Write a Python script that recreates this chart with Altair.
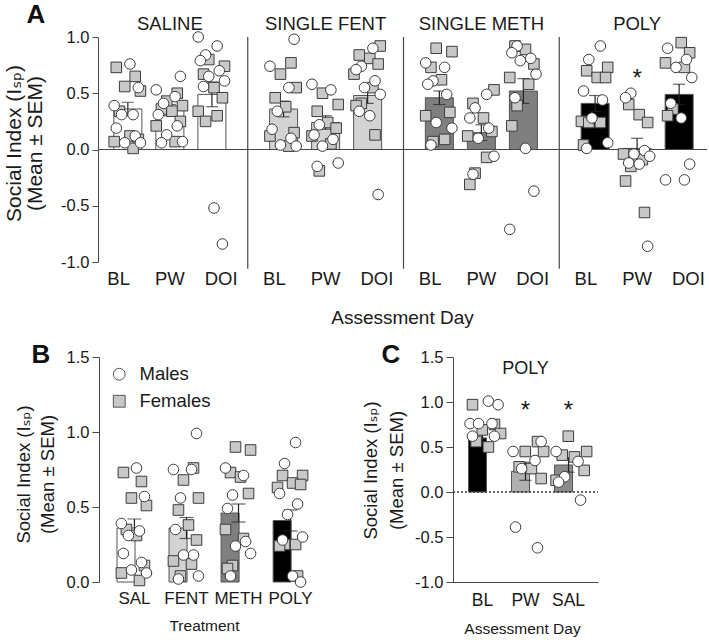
import altair as alt
import pandas as pd

FONT = "Liberation Sans, DejaVu Sans, sans-serif"
INK = "#474747"
TEXT = "#1a1a1a"
EDGE = "#3c3c3c"

# ---------------- Panel A: treatment x assessment day ----------------
treat_a = ["SALINE", "SINGLE FENT", "SINGLE METH", "POLY"]
day_a = ["BL", "PW", "DOI"]
fill_a = ["#ffffff", "#d3d3d3", "#7f7f7f", "#000000"]

mean_a = [
    [0.36, 0.35, 0.49],   # SALINE
    [0.36, 0.24, 0.48],   # SINGLE FENT
    [0.46, 0.15, 0.52],   # SINGLE METH
    [0.41, 0.01, 0.49],   # POLY
]
sem_a = [
    [0.06, 0.05, 0.11],
    [0.07, 0.06, 0.07],
    [0.06, 0.07, 0.11],
    [0.07, 0.09, 0.09],
]

# individual animals: one list per day (BL, PW, DOI)
saline_f = [[0.73, 0.65, 0.56, 0.52, 0.34, 0.12, 0.09, 0.07, 0.01],
            [0.50, 0.43, 0.39, 0.36, 0.34, 0.25, 0.21, 0.07],
            [0.80, 0.74, 0.67, 0.55, 0.46, 0.34, 0.30, 0.25]]
saline_m = [[0.76, 0.55, 0.39, 0.31, 0.31, 0.19, 0.12, 0.06, 0.06],
            [0.65, 0.53, 0.47, 0.41, 0.31, 0.21, 0.13, 0.07, 0.06],
            [1.00, 0.92, 0.84, 0.79, 0.70, 0.65, 0.61, 0.56, -0.52, -0.84]]
fent_f = [[0.77, 0.67, 0.55, 0.46, 0.38, 0.15, 0.12, 0.03],
          [0.50, 0.40, 0.34, 0.24, 0.19, 0.12, 0.05, -0.19],
          [0.92, 0.84, 0.81, 0.76, 0.67, 0.55, 0.41, 0.39, 0.13]]
fent_m = [[0.98, 0.74, 0.55, 0.34, 0.18, 0.10, 0.04, 0.03],
          [0.58, 0.53, 0.22, 0.13, 0.09, 0.03, -0.12, -0.15],
          [0.90, 0.74, 0.71, 0.61, 0.55, 0.49, 0.34, 0.30, -0.40]]
meth_f = [[0.90, 0.87, 0.73, 0.62, 0.33, 0.30, 0.09, 0.07],
          [0.53, 0.41, 0.28, 0.16, 0.12, -0.07, -0.21, -0.31],
          [0.92, 0.89, 0.76, 0.64, 0.58, 0.39, 0.21]]
meth_m = [[0.77, 0.73, 0.61, 0.58, 0.49, 0.24, 0.19, 0.04],
          [0.49, 0.37, 0.28, 0.19, 0.10, -0.06, -0.22],
          [0.92, 0.86, 0.81, 0.79, 0.67, 0.46, 0.01, -0.37, -0.71]]
poly_f = [[0.73, 0.70, 0.64, 0.64, 0.25, 0.24, 0.24, 0.04],
          [0.40, 0.31, 0.24, -0.04, -0.09, -0.15, -0.28, -0.56],
          [0.95, 0.86, 0.77, 0.73, 0.36, 0.30]]
poly_m = [[0.92, 0.80, 0.52, 0.44, 0.28, 0.06, 0.01],
          [0.50, 0.46, -0.01, -0.04, -0.06, -0.12, -0.13, -0.86],
          [0.90, 0.80, 0.73, 0.64, 0.41, 0.28, -0.13, -0.27, -0.27]]
females_a = [saline_f, fent_f, meth_f, poly_f]
males_a = [saline_m, fent_m, meth_m, poly_m]
star_a = {"treat": "POLY", "day": "PW", "y": 0.66}

# ---------------- Panel B: baseline by treatment ----------------
treat_b = ["SAL", "FENT", "METH", "POLY"]
mean_b = [0.36, 0.36, 0.46, 0.41]
sem_b = [0.06, 0.07, 0.06, 0.07]
females_b = [[0.73, 0.67, 0.56, 0.51, 0.35, 0.31, 0.11, 0.06, 0.01],
             [0.76, 0.68, 0.56, 0.48, 0.38, 0.28, 0.14, 0.12, 0.04],
             [0.90, 0.88, 0.73, 0.70, 0.59, 0.35, 0.29, 0.11, 0.09],
             [0.71, 0.71, 0.66, 0.65, 0.63, 0.25, 0.25, 0.24, 0.04]]
males_b = [[0.76, 0.57, 0.39, 0.34, 0.31, 0.19, 0.13, 0.08, 0.06],
           [0.99, 0.75, 0.75, 0.56, 0.35, 0.18, 0.18, 0.04, 0.02],
           [0.76, 0.71, 0.58, 0.49, 0.27, 0.24, 0.19, 0.04],
           [0.93, 0.79, 0.59, 0.52, 0.45, 0.30, 0.28, 0.04, 0.00]]

# ---------------- Panel C: POLY cohort ----------------
day_c = ["BL", "PW", "SAL"]
fill_c = ["#000000", "#b0b0b0", "#8a8a8a"]
mean_c = [0.60, 0.23, 0.30]
sem_c = [0.05, 0.10, 0.08]
females_c = [[0.97, 0.75, 0.69, 0.65, 0.56, 0.50],
             [0.56, 0.45, 0.45, 0.28, 0.26, 0.15],
             [0.62, 0.45, 0.41, 0.39, 0.24, 0.13]]
males_c = [[1.01, 0.97, 0.76, 0.76, 0.76, 0.62, 0.62],
           [0.56, 0.45, 0.35, 0.26, -0.39, -0.62],
           [0.45, 0.34, 0.17, 0.11, -0.09]]
star_c = ["PW", "SAL"]

# deterministic horizontal scatter pattern for the dots
JIT = [-0.55, 0.35, -0.15, 0.6, -0.4, 0.1, 0.5, -0.65, 0.25, -0.3]


def scatter(vals, center, phase, k):
    return [center + JIT[(i + phase) % len(JIT)] * k for i in range(len(vals))]


# ---------- frames ----------
bar_a = pd.DataFrame([
    {"treat": t, "day": d, "mean": mean_a[i][j], "lo": mean_a[i][j] - sem_a[i][j],
     "hi": mean_a[i][j] + sem_a[i][j], "fill": fill_a[i]}
    for i, t in enumerate(treat_a) for j, d in enumerate(day_a)
])
cap_a = pd.concat([
    bar_a[["treat", "day", "lo"]].rename(columns={"lo": "v"}),
    bar_a[["treat", "day", "hi"]].rename(columns={"hi": "v"}),
])
rows = []
for i, t in enumerate(treat_a):
    for j, d in enumerate(day_a):
        for sex, vals, ph in (("Females", females_a[i][j], 0), ("Males", males_a[i][j], 5)):
            for v, xo in zip(vals, scatter(vals, j - 1, ph + i + j, 0.5)):
                rows.append({"treat": t, "day": d, "sex": sex, "value": v, "xo": xo})
pts_a = pd.DataFrame(rows)

bar_b = pd.DataFrame({"treat": treat_b, "mean": mean_b,
                      "lo": [m - s for m, s in zip(mean_b, sem_b)],
                      "hi": [m + s for m, s in zip(mean_b, sem_b)],
                      "fill": fill_a})
cap_b = pd.concat([bar_b[["treat", "lo"]].rename(columns={"lo": "v"}),
                   bar_b[["treat", "hi"]].rename(columns={"hi": "v"})])
rows = []
for i, t in enumerate(treat_b):
    for sex, vals, ph in (("Females", females_b[i], 0), ("Males", males_b[i], 5)):
        for v, xo in zip(vals, scatter(vals, 0, ph + i, 1.15)):
            rows.append({"treat": t, "sex": sex, "value": v, "xo": xo})
pts_b = pd.DataFrame(rows)

bar_c = pd.DataFrame({"day": day_c, "mean": mean_c,
                      "lo": [m - s for m, s in zip(mean_c, sem_c)],
                      "hi": [m + s for m, s in zip(mean_c, sem_c)],
                      "fill": fill_c})
cap_c = pd.concat([bar_c[["day", "lo"]].rename(columns={"lo": "v"}),
                   bar_c[["day", "hi"]].rename(columns={"hi": "v"})])
rows = []
for i, d in enumerate(day_c):
    for sex, vals, ph in (("Females", females_c[i], 0), ("Males", males_c[i], 5)):
        for v, xo in zip(vals, scatter(vals, 0, ph + i, 1.4)):
            rows.append({"day": d, "sex": sex, "value": v, "xo": xo})
pts_c = pd.DataFrame(rows)

# ---------- shared encodings ----------
MINUS = "replace(datum.label, '\u2212', '-')"
Y_TITLE = ["Social Index (I\u209b\u209a)", "(Mean \u00b1 SEM)"]

legend = alt.Legend(orient="none", legendX=110, legendY=365, title=None,
                    labelFontSize=18.5, labelColor=TEXT, labelOffset=11,
                    symbolSize=140, symbolStrokeColor=EDGE, symbolStrokeWidth=1,
                    rowPadding=8, padding=0)
shape_enc = alt.Shape("sex:N", scale=alt.Scale(domain=["Males", "Females"],
                                               range=["circle", "square"]), legend=legend)
fill_enc = alt.Fill("sex:N", scale=alt.Scale(domain=["Males", "Females"],
                                             range=["#ffffff", "#c8c8c8"]), legend=legend)


def dots(df, x_enc, off_scale, y_enc):
    return alt.Chart(df).mark_point(filled=True, opacity=1, size=112, stroke=EDGE,
                                    strokeWidth=1).encode(
        x=x_enc, xOffset=alt.XOffset("xo:Q", scale=off_scale), y=y_enc,
        shape=shape_enc, fill=fill_enc)


# ---------- Panel A ----------
sx_a = alt.Scale(domain=treat_a, range=[92, 715], paddingInner=0, paddingOuter=0)
so_a = alt.Scale(domain=day_a, paddingInner=1 / 3, paddingOuter=0.52)
sy_a = alt.Scale(domain=[-1, 1], range=[262, 37], nice=False)

ax_xa = alt.Axis(orient="bottom", offset=-382, domain=False, ticks=False, labels=False,
                 grid=False, title="Assessment Day", titleFontSize=19,
                 titleFontWeight="normal", titleColor=TEXT, titleY=55, titleX=402,
                 titleBaseline="middle")
ax_ya = alt.Axis(orient="left", offset=-98, values=[-1, -0.5, 0, 0.5, 1], format=".1f",
                 labelExpr=MINUS, labelFontSize=16.5, labelColor=TEXT, labelPadding=3,
                 tickSize=6, tickColor=INK, domainColor=INK, grid=False,
                 title=Y_TITLE, titleFontSize=21, titleFontWeight="normal", titleColor=TEXT,
                 titleAngle=270, titleX=-84, titleY=143, titleBaseline="middle",
                 titleAlign="center", titleLineHeight=21)

xa = alt.X("treat:N", scale=sx_a, axis=ax_xa)
oa = alt.XOffset("day:N", scale=so_a)


def ya(field):
    return alt.Y(field, scale=sy_a, axis=ax_ya)


a_bars = alt.Chart(bar_a).mark_bar(stroke="#555555", strokeWidth=1).encode(
    x=xa, xOffset=oa, y=ya("mean:Q"), fill=alt.Fill("fill:N", scale=None))
a_err = alt.Chart(bar_a).mark_rule(color="#222222", strokeWidth=1.2).encode(
    x=xa, xOffset=oa, y=ya("lo:Q"), y2="hi:Q")
a_cap = alt.Chart(cap_a).mark_tick(color="#222222", size=12, thickness=1.2,
                                   orient="horizontal").encode(
    x=xa, xOffset=oa, y=ya("v:Q"))
a_zero = alt.Chart(pd.DataFrame({"v": [0]})).mark_rule(color=INK, strokeWidth=1.2).encode(
    y=ya("v:Q"), x=alt.value(98), x2=alt.value(707))
a_sep = alt.Chart(pd.DataFrame({"treat": treat_a[1:]})).mark_rule(
    color=INK, strokeWidth=1.2).encode(
    x=alt.X("treat:N", scale=sx_a, axis=ax_xa, bandPosition=0),
    y=alt.datum(1.0), y2=alt.datum(-1.06))
a_head = alt.Chart(pd.DataFrame({"treat": treat_a})).mark_text(
    fontSize=18.5, color=TEXT, baseline="middle").encode(
    x=xa, y=alt.datum(1.12), text="treat:N")
a_days = alt.Chart(bar_a).mark_text(fontSize=18.5, color=TEXT, baseline="middle").encode(
    x=xa, xOffset=oa, y=alt.datum(-1.147), text="day:N")
a_star = alt.Chart(pd.DataFrame([star_a])).mark_text(
    fontSize=24, color=TEXT, baseline="middle", dy=4).encode(
    x=xa, xOffset=oa, y=ya("y:Q"), text=alt.value("*"))
a_dots = dots(pts_a, xa, alt.Scale(domain=[-1.853, 1.853], nice=False, zero=False),
              ya("value:Q"))

panel_a = alt.layer(a_bars, a_err, a_cap, a_zero, a_sep, a_head, a_days, a_star,
                    a_dots).resolve_scale(xOffset="independent")

# ---------- Panel B ----------
sx_b = alt.Scale(domain=treat_b, range=[99, 326], paddingInner=0.33, paddingOuter=0.346)
sy_b = alt.Scale(domain=[0, 1.5], range=[582, 357], nice=False)
ax_xb = alt.Axis(orient="bottom", offset=-62, domain=False, ticks=False, grid=False,
                 labelAngle=0, labelPadding=8, labelFontSize=17, labelColor=TEXT,
                 title="Treatment", titleFontSize=15.5, titleFontWeight="normal",
                 titleColor=TEXT, titleX=204, titleY=43, titleBaseline="middle")
ax_yb = alt.Axis(orient="left", offset=-99, values=[0, 0.5, 1, 1.5], format=".1f",
                 labelFontSize=16.5, labelColor=TEXT, labelPadding=3, tickSize=7,
                 tickColor=INK, domainColor=INK, grid=False,
                 title=Y_TITLE, titleFontSize=18.5, titleFontWeight="normal", titleColor=TEXT,
                 titleAngle=270, titleX=-76, titleY=474, titleBaseline="middle",
                 titleAlign="center", titleLineHeight=24)
xb = alt.X("treat:N", scale=sx_b, axis=ax_xb)


def yb(field):
    return alt.Y(field, scale=sy_b, axis=ax_yb)


b_bars = alt.Chart(bar_b).mark_bar(stroke="#555555", strokeWidth=1).encode(
    x=xb, y=yb("mean:Q"), fill=alt.Fill("fill:N", scale=None))
b_err = alt.Chart(bar_b).mark_rule(color="#222222", strokeWidth=1.2).encode(
    x=xb, y=yb("lo:Q"), y2="hi:Q")
b_cap = alt.Chart(cap_b).mark_tick(color="#222222", size=14, thickness=1.2,
                                   orient="horizontal").encode(x=xb, y=yb("v:Q"))
b_dots = dots(pts_b, xb, alt.Scale(domain=[-1, 1], nice=False, zero=False), yb("value:Q"))
panel_b = alt.layer(b_bars, b_err, b_cap, b_dots)

# ---------- Panel C ----------
sx_c = alt.Scale(domain=day_c, range=[453, 598], paddingInner=0.35, paddingOuter=0.36)
sy_c = alt.Scale(domain=[-1, 1.5], range=[582, 357], nice=False)
ax_xc = alt.Axis(orient="bottom", offset=-62, domain=True, domainColor=INK, ticks=False,
                 grid=False, labelAngle=0, labelPadding=9, labelFontSize=17.5,
                 labelColor=TEXT, title="Assessment Day", titleFontSize=15.5,
                 titleFontWeight="normal", titleColor=TEXT, titleX=522, titleY=46,
                 titleBaseline="middle")
ax_yc = alt.Axis(orient="left", offset=-453, values=[-1, -0.5, 0, 0.5, 1, 1.5],
                 format=".1f", labelExpr=MINUS, labelFontSize=16.5, labelColor=TEXT,
                 labelPadding=3, tickSize=7, tickColor=INK, domainColor=INK, grid=False,
                 title=Y_TITLE, titleFontSize=18.5, titleFontWeight="normal", titleColor=TEXT,
                 titleAngle=270, titleX=-83, titleY=470, titleBaseline="middle",
                 titleAlign="center", titleLineHeight=26)
xc = alt.X("day:N", scale=sx_c, axis=ax_xc)


def yc(field):
    return alt.Y(field, scale=sy_c, axis=ax_yc)


c_bars = alt.Chart(bar_c).mark_bar(stroke="#555555", strokeWidth=1).encode(
    x=xc, y=yc("mean:Q"), fill=alt.Fill("fill:N", scale=None))
c_err = alt.Chart(bar_c).mark_rule(color="#222222", strokeWidth=1.2).encode(
    x=xc, y=yc("lo:Q"), y2="hi:Q")
c_cap = alt.Chart(cap_c).mark_tick(color="#222222", size=12, thickness=1.2,
                                   orient="horizontal").encode(x=xc, y=yc("v:Q"))
c_zero = alt.Chart(pd.DataFrame({"v": [0]})).mark_rule(
    color="#333333", strokeWidth=1.3, strokeDash=[2, 2]).encode(
    y=yc("v:Q"), x=alt.value(453), x2=alt.value(598))
c_head = alt.Chart(pd.DataFrame({"day": ["PW"], "t": ["POLY"]})).mark_text(
    fontSize=18, color=TEXT, baseline="middle").encode(
    x=xc, y=alt.datum(1.37), text="t:N")
c_star = alt.Chart(pd.DataFrame({"day": star_c})).mark_text(
    fontSize=24, color=TEXT, baseline="middle", dy=4).encode(
    x=xc, y=alt.datum(0.94), text=alt.value("*"))
c_dots = dots(pts_c, xc, alt.Scale(domain=[-1, 1], nice=False, zero=False), yc("value:Q"))
panel_c = alt.layer(c_bars, c_err, c_cap, c_zero, c_head, c_star, c_dots)

# ---------- panel letters ----------
letters = [
    alt.Chart(pd.DataFrame({"l": [l]})).mark_text(
        fontSize=26, fontWeight="bold", color="#111111", baseline="middle").encode(
        text="l:N", x=alt.value(px), y=alt.value(py))
    for l, px, py in (("A", 36, 15), ("B", 41, 355), ("C", 391, 355))
]

chart = alt.layer(panel_a, panel_b, panel_c, *letters).resolve_scale(
    x="independent", y="independent"
).properties(
    width=709, height=644, padding=0,
    autosize=alt.AutoSizeParams(type="none"),
    background="white",
).configure_view(stroke="transparent").configure_axis(
    labelFont=FONT, titleFont=FONT
).configure_text(font=FONT).configure_legend(labelFont=FONT)

chart.save("out.html", embed_options={"renderer": "svg", "actions": False})
